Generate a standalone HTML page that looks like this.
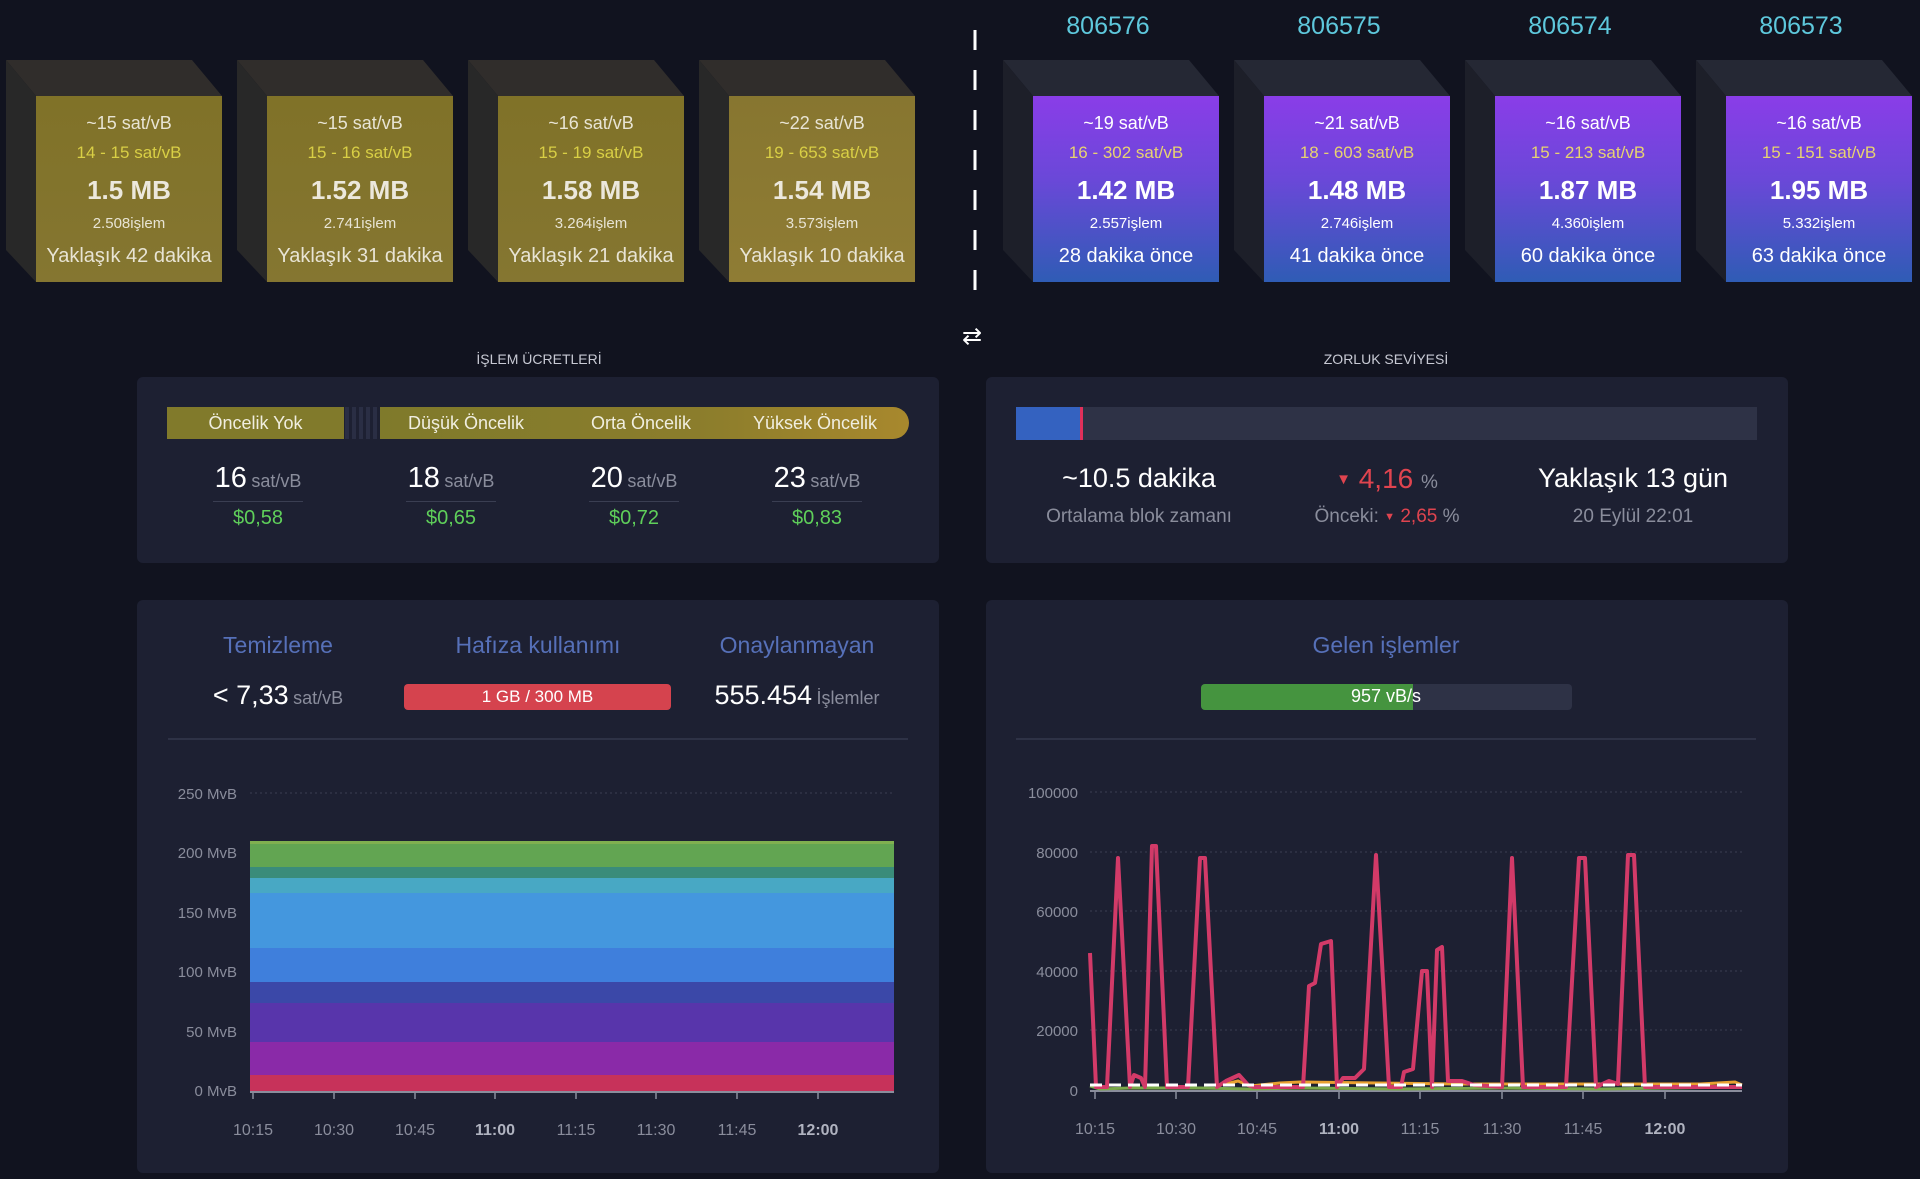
<!DOCTYPE html>
<html><head><meta charset="utf-8">
<style>
*{margin:0;padding:0;box-sizing:border-box}
body{width:1920px;height:1179px;background:#11131f;font-family:"Liberation Sans",sans-serif;position:relative;overflow:hidden;color:#fff}
.a{position:absolute}
.c{position:absolute;transform:translateX(-50%);white-space:nowrap;text-align:center}
.blk{position:absolute;top:96px;width:186px;height:186px}
.gold{background:linear-gradient(#807228,#857631)}
.gold4{background:linear-gradient(#877630,#8f7c34)}
.purp{background:linear-gradient(#8a3de8,#6a48d8 45%,#2f5cb5)}
.bt{position:absolute;left:0;width:186px;text-align:center;white-space:nowrap}
.r{top:47px;font-size:17px}
.panel{position:absolute;background:#1d2032;border-radius:6px}
.gray{color:#8a8d9c}
</style></head><body>

<svg class="a" style="left:0;top:0" width="1920" height="300">
<g>
<polygon points="6,60 192,60 222,96 36,96" fill="#302d2b"/><polygon points="6,60 36,96 36,282 6,250" fill="#282828"/>
<polygon points="237,60 423,60 453,96 267,96" fill="#302d2b"/><polygon points="237,60 267,96 267,282 237,250" fill="#282828"/>
<polygon points="468,60 654,60 684,96 498,96" fill="#302d2b"/><polygon points="468,60 498,96 498,282 468,250" fill="#282828"/>
<polygon points="699,60 885,60 915,96 729,96" fill="#302d2b"/><polygon points="699,60 729,96 729,282 699,250" fill="#282828"/>
<polygon points="1003,60 1189,60 1219,96 1033,96" fill="#252834"/><polygon points="1003,60 1033,96 1033,282 1003,250" fill="#1d1f29"/>
<polygon points="1234,60 1420,60 1450,96 1264,96" fill="#252834"/><polygon points="1234,60 1264,96 1264,282 1234,250" fill="#1d1f29"/>
<polygon points="1465,60 1651,60 1681,96 1495,96" fill="#252834"/><polygon points="1465,60 1495,96 1495,282 1465,250" fill="#1d1f29"/>
<polygon points="1696,60 1882,60 1912,96 1726,96" fill="#252834"/><polygon points="1696,60 1726,96 1726,282 1696,250" fill="#1d1f29"/>
</g>
<line x1="975" y1="30" x2="975" y2="292" stroke="#fff" stroke-width="3" stroke-dasharray="20,20"/>
</svg>
<div class="a" style="left:962px;top:322px;font-size:24px;color:#fff">⇄</div>

<div class="blk gold" style="left:36px"><div class="bt" style="top:17px;font-size:18px;color:#e8e4d4">~15 sat/vB</div><div class="bt r" style="color:#d9cf45">14 - 15 sat/vB</div><div class="bt" style="top:79px;font-size:26px;font-weight:bold;color:#ece8dc">1.5 MB</div><div class="bt" style="top:119px;font-size:15px;color:#e8e4d4">2.508işlem</div><div class="bt" style="top:149px;font-size:20px;color:#e8e4d4">Yaklaşık 42 dakika</div></div>
<div class="blk gold" style="left:267px"><div class="bt" style="top:17px;font-size:18px;color:#e8e4d4">~15 sat/vB</div><div class="bt r" style="color:#d9cf45">15 - 16 sat/vB</div><div class="bt" style="top:79px;font-size:26px;font-weight:bold;color:#ece8dc">1.52 MB</div><div class="bt" style="top:119px;font-size:15px;color:#e8e4d4">2.741işlem</div><div class="bt" style="top:149px;font-size:20px;color:#e8e4d4">Yaklaşık 31 dakika</div></div>
<div class="blk gold" style="left:498px"><div class="bt" style="top:17px;font-size:18px;color:#e8e4d4">~16 sat/vB</div><div class="bt r" style="color:#d9cf45">15 - 19 sat/vB</div><div class="bt" style="top:79px;font-size:26px;font-weight:bold;color:#ece8dc">1.58 MB</div><div class="bt" style="top:119px;font-size:15px;color:#e8e4d4">3.264işlem</div><div class="bt" style="top:149px;font-size:20px;color:#e8e4d4">Yaklaşık 21 dakika</div></div>
<div class="blk gold4" style="left:729px"><div class="bt" style="top:17px;font-size:18px;color:#e8e4d4">~22 sat/vB</div><div class="bt r" style="color:#d9cf45">19 - 653 sat/vB</div><div class="bt" style="top:79px;font-size:26px;font-weight:bold;color:#ece8dc">1.54 MB</div><div class="bt" style="top:119px;font-size:15px;color:#e8e4d4">3.573işlem</div><div class="bt" style="top:149px;font-size:20px;color:#e8e4d4">Yaklaşık 10 dakika</div></div>

<div class="c" style="left:1108px;top:12px;font-size:25px;color:#5ec8dc">806576</div>
<div class="c" style="left:1339px;top:12px;font-size:25px;color:#5ec8dc">806575</div>
<div class="c" style="left:1570px;top:12px;font-size:25px;color:#5ec8dc">806574</div>
<div class="c" style="left:1801px;top:12px;font-size:25px;color:#5ec8dc">806573</div>

<div class="blk purp" style="left:1033px"><div class="bt" style="top:17px;font-size:18px">~19 sat/vB</div><div class="bt r" style="color:#e8d370">16 - 302 sat/vB</div><div class="bt" style="top:79px;font-size:26px;font-weight:bold">1.42 MB</div><div class="bt" style="top:119px;font-size:15px">2.557işlem</div><div class="bt" style="top:149px;font-size:20px">28 dakika önce</div></div>
<div class="blk purp" style="left:1264px"><div class="bt" style="top:17px;font-size:18px">~21 sat/vB</div><div class="bt r" style="color:#e8d370">18 - 603 sat/vB</div><div class="bt" style="top:79px;font-size:26px;font-weight:bold">1.48 MB</div><div class="bt" style="top:119px;font-size:15px">2.746işlem</div><div class="bt" style="top:149px;font-size:20px">41 dakika önce</div></div>
<div class="blk purp" style="left:1495px"><div class="bt" style="top:17px;font-size:18px">~16 sat/vB</div><div class="bt r" style="color:#e8d370">15 - 213 sat/vB</div><div class="bt" style="top:79px;font-size:26px;font-weight:bold">1.87 MB</div><div class="bt" style="top:119px;font-size:15px">4.360işlem</div><div class="bt" style="top:149px;font-size:20px">60 dakika önce</div></div>
<div class="blk purp" style="left:1726px"><div class="bt" style="top:17px;font-size:18px">~16 sat/vB</div><div class="bt r" style="color:#e8d370">15 - 151 sat/vB</div><div class="bt" style="top:79px;font-size:26px;font-weight:bold">1.95 MB</div><div class="bt" style="top:119px;font-size:15px">5.332işlem</div><div class="bt" style="top:149px;font-size:20px">63 dakika önce</div></div>

<div class="c" style="left:539px;top:351px;font-size:14px;color:#c8cad4">İŞLEM ÜCRETLERİ</div>
<div class="c" style="left:1386px;top:351px;font-size:14px;color:#c8cad4">ZORLUK SEVİYESİ</div>

<div class="panel" style="left:137px;top:377px;width:802px;height:186px"></div>
<div class="a" style="left:167px;top:407px;width:177px;height:32px;background:#817a2b;font-size:18px;line-height:32px;text-align:center;color:#f0eee0">Öncelik Yok</div>
<div class="a" style="left:345px;top:407px;width:33px;height:32px;background:repeating-linear-gradient(90deg,#2a2e44 0 4px,#1d2032 4px 7px)"></div>
<div class="a" style="left:380px;top:407px;width:529px;height:32px;background:linear-gradient(90deg,#7f7a2b,#8b7d2c 60%,#a8882d);border-radius:0 16px 16px 0"></div>
<div class="c" style="left:466px;top:413px;font-size:18px;color:#f0eee0">Düşük Öncelik</div>
<div class="c" style="left:641px;top:413px;font-size:18px;color:#f0eee0">Orta Öncelik</div>
<div class="c" style="left:815px;top:413px;font-size:18px;color:#f0eee0">Yüksek Öncelik</div>

<div class="c" style="left:258px;top:462px"><span style="font-size:29px">16</span> <span class="gray" style="font-size:18px">sat/vB</span></div>
<div class="c" style="left:451px;top:462px"><span style="font-size:29px">18</span> <span class="gray" style="font-size:18px">sat/vB</span></div>
<div class="c" style="left:634px;top:462px"><span style="font-size:29px">20</span> <span class="gray" style="font-size:18px">sat/vB</span></div>
<div class="c" style="left:817px;top:462px"><span style="font-size:29px">23</span> <span class="gray" style="font-size:18px">sat/vB</span></div>
<div class="a" style="left:213px;top:501px;width:90px;height:1px;background:#3a3e52"></div>
<div class="a" style="left:406px;top:501px;width:90px;height:1px;background:#3a3e52"></div>
<div class="a" style="left:589px;top:501px;width:90px;height:1px;background:#3a3e52"></div>
<div class="a" style="left:772px;top:501px;width:90px;height:1px;background:#3a3e52"></div>
<div class="c" style="left:258px;top:507px;font-size:20px;color:#5fcf5a">$0,58</div>
<div class="c" style="left:451px;top:507px;font-size:20px;color:#5fcf5a">$0,65</div>
<div class="c" style="left:634px;top:507px;font-size:20px;color:#5fcf5a">$0,72</div>
<div class="c" style="left:817px;top:507px;font-size:20px;color:#5fcf5a">$0,83</div>

<div class="panel" style="left:986px;top:377px;width:802px;height:186px"></div>
<div class="a" style="left:1016px;top:407px;width:741px;height:33px;background:#2e3246"></div>
<div class="a" style="left:1016px;top:407px;width:64px;height:33px;background:#3462c0"></div>
<div class="a" style="left:1080px;top:407px;width:3px;height:33px;background:#e0305a"></div>
<div class="c" style="left:1139px;top:463px;font-size:27px">~10.5 dakika</div>
<div class="c gray" style="left:1139px;top:506px;font-size:19px">Ortalama blok zamanı</div>
<div class="c" style="left:1387px;top:463px;font-size:28px;color:#e0444f"><span style="font-size:15px;vertical-align:4px">▼</span> 4,16 <span class="gray" style="font-size:19px">%</span></div>
<div class="c gray" style="left:1387px;top:506px;font-size:19px">Önceki: <span style="color:#e0444f"><span style="font-size:11px;vertical-align:2px">▼</span> 2,65</span> %</div>
<div class="c" style="left:1633px;top:463px;font-size:27px">Yaklaşık 13 gün</div>
<div class="c gray" style="left:1633px;top:506px;font-size:19px">20 Eylül 22:01</div>

<div class="panel" style="left:137px;top:600px;width:802px;height:573px"></div>
<div class="panel" style="left:986px;top:600px;width:802px;height:573px"></div>

<div class="c" style="left:278px;top:632px;font-size:23px;color:#5670b8">Temizleme</div>
<div class="c" style="left:538px;top:632px;font-size:23px;color:#5670b8">Hafıza kullanımı</div>
<div class="c" style="left:797px;top:632px;font-size:23px;color:#5670b8">Onaylanmayan</div>
<div class="c" style="left:278px;top:680px"><span style="font-size:27px">&lt; 7,33</span> <span class="gray" style="font-size:18px">sat/vB</span></div>
<div class="a" style="left:404px;top:684px;width:267px;height:26px;background:#d5434e;border-radius:4px;font-size:17px;line-height:26px;text-align:center">1 GB / 300 MB</div>
<div class="c" style="left:797px;top:680px"><span style="font-size:27px">555.454</span> <span class="gray" style="font-size:18px">İşlemler</span></div>
<div class="a" style="left:168px;top:738px;width:740px;height:2px;background:#2e3246"></div>

<div class="c" style="left:1386px;top:632px;font-size:23px;color:#5670b8">Gelen işlemler</div>
<div class="a" style="left:1201px;top:684px;width:371px;height:26px;background:#2e3246;border-radius:4px"></div>
<div class="a" style="left:1201px;top:684px;width:212px;height:26px;background:#45943f;border-radius:4px 0 0 4px"></div>
<div class="c" style="left:1386px;top:686px;font-size:18px">957 vB/s</div>
<div class="a" style="left:1016px;top:738px;width:740px;height:2px;background:#2e3246"></div>

<svg class="a" style="left:0;top:0" width="1920" height="1179">
<g stroke="#3a3e52" stroke-dasharray="2,3" stroke-width="1">
<line x1="250" y1="793" x2="895" y2="793"/><line x1="250" y1="853" x2="895" y2="853"/><line x1="250" y1="912" x2="895" y2="912"/><line x1="250" y1="972" x2="895" y2="972"/><line x1="250" y1="1031" x2="895" y2="1031"/>
<line x1="1090" y1="792" x2="1742" y2="792"/><line x1="1090" y1="852" x2="1742" y2="852"/><line x1="1090" y1="911" x2="1742" y2="911"/><line x1="1090" y1="971" x2="1742" y2="971"/><line x1="1090" y1="1030" x2="1742" y2="1030"/>
</g>
<g font-size="15" fill="#8a8d9c" text-anchor="end">
<text x="237" y="799">250 MvB</text><text x="237" y="858">200 MvB</text><text x="237" y="918">150 MvB</text><text x="237" y="977">100 MvB</text><text x="237" y="1037">50 MvB</text><text x="237" y="1096">0 MvB</text>
<text x="1078" y="798">100000</text><text x="1078" y="858">80000</text><text x="1078" y="917">60000</text><text x="1078" y="977">40000</text><text x="1078" y="1036">20000</text><text x="1078" y="1096">0</text>
</g>
<rect x="250" y="842" width="644" height="249" fill="#c7325a"/>
<rect x="250" y="842" width="644" height="233" fill="#8a2aa8"/>
<rect x="250" y="842" width="644" height="200" fill="#5835ab"/>
<rect x="250" y="842" width="644" height="161" fill="#3b48a8"/>
<rect x="250" y="842" width="644" height="140" fill="#3f7fdc"/>
<rect x="250" y="842" width="644" height="106" fill="#4497de"/>
<rect x="250" y="842" width="644" height="51" fill="#48a8c4"/>
<rect x="250" y="842" width="644" height="36" fill="#3a8c7a"/>
<rect x="250" y="842" width="644" height="25" fill="#62a552"/>
<rect x="250" y="841" width="644" height="3" fill="#80b050"/>
<line x1="250" y1="1092" x2="894" y2="1092" stroke="#8a8d9c" stroke-width="2"/>
<g stroke="#8a8d9c" stroke-width="1.5"><line x1="253" y1="1092" x2="253" y2="1099"/><line x1="334" y1="1092" x2="334" y2="1099"/><line x1="415" y1="1092" x2="415" y2="1099"/><line x1="495" y1="1092" x2="495" y2="1099"/><line x1="576" y1="1092" x2="576" y2="1099"/><line x1="656" y1="1092" x2="656" y2="1099"/><line x1="737" y1="1092" x2="737" y2="1099"/><line x1="818" y1="1092" x2="818" y2="1099"/>
<line x1="1095" y1="1091" x2="1095" y2="1099"/><line x1="1176" y1="1091" x2="1176" y2="1099"/><line x1="1257" y1="1091" x2="1257" y2="1099"/><line x1="1339" y1="1091" x2="1339" y2="1099"/><line x1="1420" y1="1091" x2="1420" y2="1099"/><line x1="1502" y1="1091" x2="1502" y2="1099"/><line x1="1583" y1="1091" x2="1583" y2="1099"/><line x1="1665" y1="1091" x2="1665" y2="1099"/></g>
<g font-size="16" fill="#8a8d9c" text-anchor="middle">
<text x="253" y="1135">10:15</text><text x="334" y="1135">10:30</text><text x="415" y="1135">10:45</text><text x="495" y="1135" font-weight="bold" fill="#b0b3c0">11:00</text><text x="576" y="1135">11:15</text><text x="656" y="1135">11:30</text><text x="737" y="1135">11:45</text><text x="818" y="1135" font-weight="bold" fill="#b0b3c0">12:00</text>
<text x="1095" y="1134">10:15</text><text x="1176" y="1134">10:30</text><text x="1257" y="1134">10:45</text><text x="1339" y="1134" font-weight="bold" fill="#b0b3c0">11:00</text><text x="1420" y="1134">11:15</text><text x="1502" y="1134">11:30</text><text x="1583" y="1134">11:45</text><text x="1665" y="1134" font-weight="bold" fill="#b0b3c0">12:00</text>
</g>
<line x1="1090" y1="1091" x2="1742" y2="1091" stroke="#8a8d9c" stroke-width="2"/>
<polyline fill="none" stroke="#7aa84a" stroke-width="3" points="1090,1086 1100,1089 1130,1088 1160,1088 1200,1088 1250,1089 1300,1088 1400,1089 1500,1088 1600,1089 1742,1087"/>
<polyline fill="none" stroke="#e8a030" stroke-width="3" points="1226,1084 1238,1081 1250,1086 1280,1083 1300,1082 1460,1084 1560,1084 1700,1084 1735,1082 1742,1085"/>
<polyline fill="none" stroke="#d23a68" stroke-width="4" stroke-linejoin="round" points="1090,953 1096,1087 1107,1087 1118,858 1130,1087 1134,1075 1141,1078 1145,1087 1152,846 1156,846 1167,1087 1188,1087 1200,858 1205,858 1217,1087 1226,1081 1239,1075 1248,1085 1254,1087 1303,1087 1309,986 1315,983 1321,944 1331,941 1337,1087 1343,1078 1355,1078 1364,1069 1376,855 1389,1087 1401,1087 1404,1072 1413,1069 1422,971 1427,971 1432,1087 1437,950 1442,947 1448,1081 1462,1081 1474,1085 1502,1087 1512,858 1523,1087 1566,1087 1579,858 1585,858 1596,1087 1609,1081 1618,1084 1628,855 1634,855 1645,1087 1742,1087"/>
<line x1="1090" y1="1085" x2="1742" y2="1085" stroke="#fff" stroke-width="3" stroke-dasharray="12,7"/>
</svg>
</body></html>
